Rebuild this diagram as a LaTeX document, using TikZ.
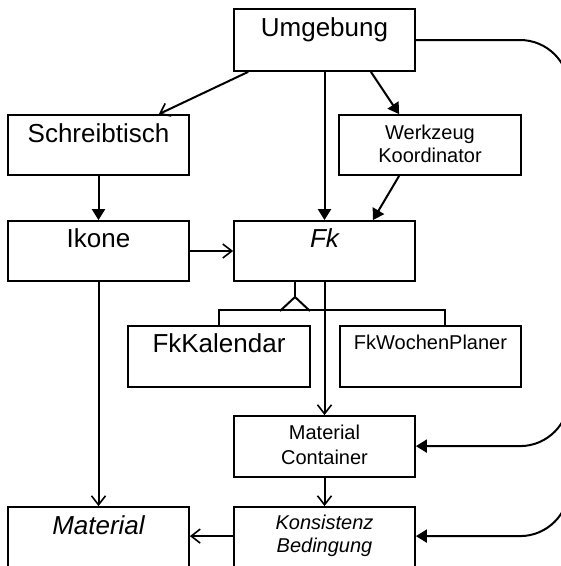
\documentclass[tikz,border=0pt]{standalone}
\usepackage{fontspec}
\setmainfont{Liberation Sans}
\usetikzlibrary{arrows.meta,calc}
\begin{document}
\begin{tikzpicture}[x=1pt,y=-1pt,
  box/.style={draw, line width=1.8pt, rectangle, inner sep=0pt, minimum width=181pt, minimum height=60pt},
  big/.style={anchor=base, inner sep=0pt, font=\fontsize{26}{30}\selectfont},
  small/.style={anchor=base, inner sep=0pt, font=\fontsize{20}{24}\selectfont},
  conn/.style={line width=2pt},
  open/.style={conn, -{Straight Barb[length=9pt,width=14pt,line width=1.6pt]}},
  filled/.style={conn, -{Triangle[length=11pt,width=13pt]}}
]
\useasboundingbox (0,0) rectangle (561,566);
\clip (0,0) rectangle (561,566);
\fill[white] (0,0) rectangle (561,566);
% boxes
\node[box, minimum height=62pt] (umg) at (324.5,40) {};
\node[box] (sch) at (98.5,145) {};
\node[box, minimum width=182pt] (wkz) at (430,145) {};
\node[box] (iko) at (98.5,251) {};
\node[box] (fk) at (324.5,251) {};
\node[box, minimum width=182pt, minimum height=61pt] (fkk) at (219,356.5) {};
\node[box, minimum height=61pt] (fkw) at (430.5,356.5) {};
\node[box, minimum height=61pt] (mc) at (324.5,446.5) {};
\node[box, minimum height=83pt] (kb) at (324.5,548.5) {};
\node[box, minimum height=83pt] (mat) at (98.5,548.5) {};
% texts
\node[big] (umgT) at ($(umg.north)+(0,28)$) {Umgebung};
\node[big] (schT) at ($(sch.north)+(0,28)$) {Schreibtisch};
\node[small] (wkzT1) at ($(wkz.north)+(0,25)$) {Werkzeug};
\node[small] (wkzT2) at ($(wkz.north)+(0,48)$) {Koordinator};
\node[big] (ikoT) at ($(iko.north)+(0,27.5)$) {Ikone};
\node[big] (fkT) at ($(fk.north)+(0,27.5)$) {\itshape Fk};
\node[big] (fkkT) at ($(fkk.north)+(0,27)$) {FkKalendar};
\node[small] (fkwT) at ($(fkw.north)+(0,24)$) {FkWochenPlaner};
\node[small] (mcT1) at ($(mc.north)+(0,24)$) {Material};
\node[small] (mcT2) at ($(mc.north)+(0,49)$) {Container};
\node[small] (kbT1) at ($(kb.north)+(0,23)$) {\itshape Konsistenz};
\node[small] (kbT2) at ($(kb.north)+(0,46)$) {\itshape Bedingung};
\node[big] (matT) at ($(mat.north)+(0,28)$) {\itshape Material};
% connectors
\draw[open] ($(umg.south west)+(15,0)$) -- ($(sch.north east)+(-31,0)$);
\draw[filled] (umg.south) -- (fk.north);
\draw[filled] ($(umg.south east)+(-45,0)$) -- ($(wkz.north west)+(61,0)$);
\draw[filled] ($(wkz.south west)+(61,0)$) -- ($(fk.north east)+(-43,0)$);
\draw[filled] (sch.south) -- (iko.north);
\draw[open] (iko.east) -- (fk.west);
\draw[open] (iko.south) -- (mat.north);
\draw[open] (fk.south) -- (mc.north);
\draw[open] (mc.south) -- (kb.north);
\coordinate (kbin) at ($(kb.north west)+(0,30)$);
\draw[open] (kbin) -- (kbin -| mat.east);
% inheritance
\coordinate (apex) at (295,297);
\coordinate (fkwdrop) at ($(fkw.north)+(14.5,0)$);
\draw[conn] (fk.south -| apex) -- (apex);
\draw[conn] ($(apex)+(-15,14)$) -- (apex) -- ($(apex)+(15,14)$);
\draw[conn] (fkk.north) -- ++(0,-15) -| (fkwdrop);
% right-hand feedback lines
\coordinate (rr) at (569,0);
\coordinate (mcin) at ($(mc.north east)+(0,31)$);
\coordinate (kbin2) at ($(kb.north east)+(0,30)$);
\draw[filled, rounded corners=49pt] (umg.east) -| (rr |- kbin2) -- (kbin2);
\draw[filled, rounded corners=49pt] ($(rr |- mcin)+(0,-60)$) |- (mcin);
\end{tikzpicture}
\end{document}
